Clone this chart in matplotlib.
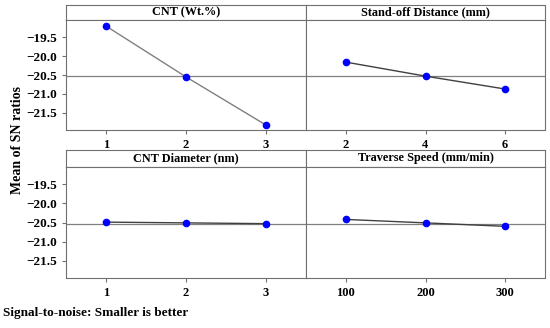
import numpy as np
import matplotlib as mpl
mpl.use('Agg')
mpl.rcParams['font.family'] = 'Liberation Serif'
mpl.rcParams['font.weight'] = 'bold'
import matplotlib.pyplot as plt

"""
Main effects plot for SN ratios (2x2 panels, Minitab style).
"""

titles = ['CNT (Wt.%)', 'Stand-off Distance (mm)',
          'CNT Diameter (nm)', 'Traverse Speed (mm/min)']
levels = [[1, 2, 3], [2, 4, 6], [1, 2, 3], [100, 200, 300]]
sn_means = [[-19.21, -20.55, -21.82],
            [-20.16, -20.53, -20.87],
            [-20.49, -20.51, -20.53],
            [-20.42, -20.51, -20.60]]
grand_mean = -20.53
yticks = [-19.5, -20.0, -20.5, -21.0, -21.5]

W, H = 550., 328.

def box(x0, y0, x1, y1):
    # pixel box (top-left origin) -> figure fraction rect
    return [x0 / W, 1 - y1 / H, (x1 - x0) / W, (y1 - y0) / H]

fig = plt.figure(figsize=(5.5, 3.28), dpi=100)

cols = [(66, 306), (306, 545)]
rows = [(5, 20, 130), (150, 167, 278)]
xlims = [(0.5, 3.5), (1, 7), (0.5, 3.5), (50, 350)]
edge = '#707070'

for i in range(4):
    r, c = divmod(i, 2)
    x0, x1 = cols[c]
    ys, yp, yb = rows[r]

    # title strip
    st = fig.add_axes(box(x0, ys, x1, yp))
    st.set_xticks([]); st.set_yticks([])
    for sp in st.spines.values():
        sp.set_color(edge)
    st.text(0.5, 0.5, titles[i], ha='center', va='center',
            fontsize=8.8, fontweight='bold', transform=st.transAxes)

    ax = fig.add_axes(box(x0, yp, x1, yb))
    for sp in ax.spines.values():
        sp.set_color(edge)
    ax.axhline(grand_mean, color='#808080', lw=0.9, zorder=1)
    lc = '#808080' if i == 0 else '#404040'
    ax.plot(levels[i], sn_means[i], color=lc, lw=1.0, zorder=2)
    ax.plot(levels[i], sn_means[i], 'o', color='#0000ff', ms=4.5, zorder=3)
    ax.set_xlim(*xlims[i])
    ax.set_ylim(-21.95, -19.05)
    ax.set_xticks(levels[i])
    ax.set_yticks(yticks)
    ax.tick_params(length=3, width=0.8, color=edge, labelsize=9.5)
    ax.tick_params(axis='x', labelsize=9)
    if c == 1:
        ax.set_yticklabels([])
        ax.tick_params(axis='y', length=0)
    else:
        ax.yaxis.set_major_formatter(mpl.ticker.FuncFormatter(
            lambda v, p: ('%.1f' % v).replace('-', '\u2212')))
    for lab in ax.get_xticklabels() + ax.get_yticklabels():
        lab.set_fontweight('bold')

fig.text(18 / W, 1 - 140 / H, 'Mean of SN ratios', rotation=90,
         ha='center', va='center', fontsize=10, fontweight='bold')
fig.text(3 / W, 1 - 313 / H, 'Signal-to-noise: Smaller is better',
         ha='left', va='center', fontsize=9.5, fontweight='bold')

plt.savefig('out.png', dpi=100)
